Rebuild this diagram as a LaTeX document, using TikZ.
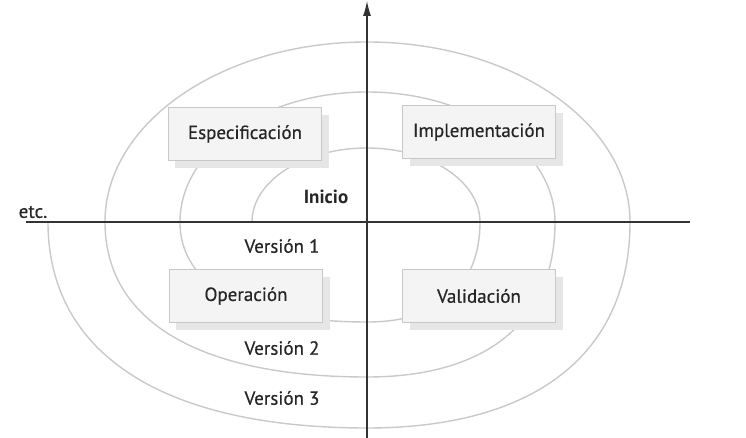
\documentclass[tikz,border=0pt]{standalone}
\usepackage{fontspec}
\setmainfont{PT Sans}
\newfontfamily\labelfont{PT Sans}[FakeBold=0.5]
\usepackage{xcolor}
\usepackage{tikz}
\usetikzlibrary{shapes,arrows.meta,positioning,shadows}

\definecolor{axisgray}{HTML}{333333}
\definecolor{arcgray}{HTML}{C9C9C9}
\definecolor{boxfill}{HTML}{F4F4F4}
\definecolor{boxline}{HTML}{C8C8C8}
\definecolor{shadowgray}{HTML}{E6E6E6}
\definecolor{textgray}{HTML}{262626}

\tikzset{
    spiral/.style={draw=arcgray, line width=1.4pt},
    axis/.style={draw=axisgray, line width=1.1pt},
    phase/.style={rectangle, draw=boxline, fill=boxfill, line width=1.4pt,
        minimum width=153pt, minimum height=53pt, text=textgray, font=\labelfont\fontsize{19}{22}\selectfont,
        general shadow={fill=shadowgray, shadow xshift=7pt, shadow yshift=-8pt}},
    tag/.style={text=textgray, font=\labelfont\fontsize{19}{22}\selectfont}
}

\begin{document}
\begin{tikzpicture}[x=1pt, y=1pt]
    \useasboundingbox (-367,222) rectangle (379,-216);

    % Spiral (one turn per row: UL x, top y, UR x, bottom y, next left x)
    \foreach \ul/\up/\ur/\lo/\ll in {115/74/113/100/187, 187/130/188/155/262, 262/180/263/206/319}
        \draw[spiral] (-\ul,0)
            arc[start angle=180, end angle=90, x radius=\ul, y radius=\up]
            arc[start angle=90, end angle=0, x radius=\ur, y radius=\up]
            .. controls (\ur,-0.64*\lo) and (0.64*\ur,-\lo) .. (0,-\lo)
            .. controls (-0.64*\ll,-\lo) and (-\ll,-0.64*\lo) .. (-\ll,0);

    % Axes
    \coordinate (west) at (-341,0);
    \coordinate (east) at (323,0);
    \coordinate (south) at (0,-216);
    \coordinate (north) at (0,221);
    \draw[axis] (west) -- (east);
    \draw[axis, -{Latex[length=15pt, width=8pt]}] (south) -- (north);

    % Phases
    \node[phase] (spec) at (-122,88) {Especificación};
    \node[phase] (impl) at (112,90) {Implementación};
    \node[phase] (oper) at (-121,-74) {Operación};
    \node[phase] (valid) at (112,-74) {Validación};

    % Versions
    \node[tag, font=\fontsize{19}{22}\selectfont\bfseries] (start) at (-41,25) {Inicio};
    \node[tag] (etc) at (-334,10) {etc.};
    \foreach \y/\name/\val in {-24/v1/1, -126/v2/2, -176/v3/3}
        \node[tag] (\name) at (-85,\y) {Versión \val};
\end{tikzpicture}
\end{document}
